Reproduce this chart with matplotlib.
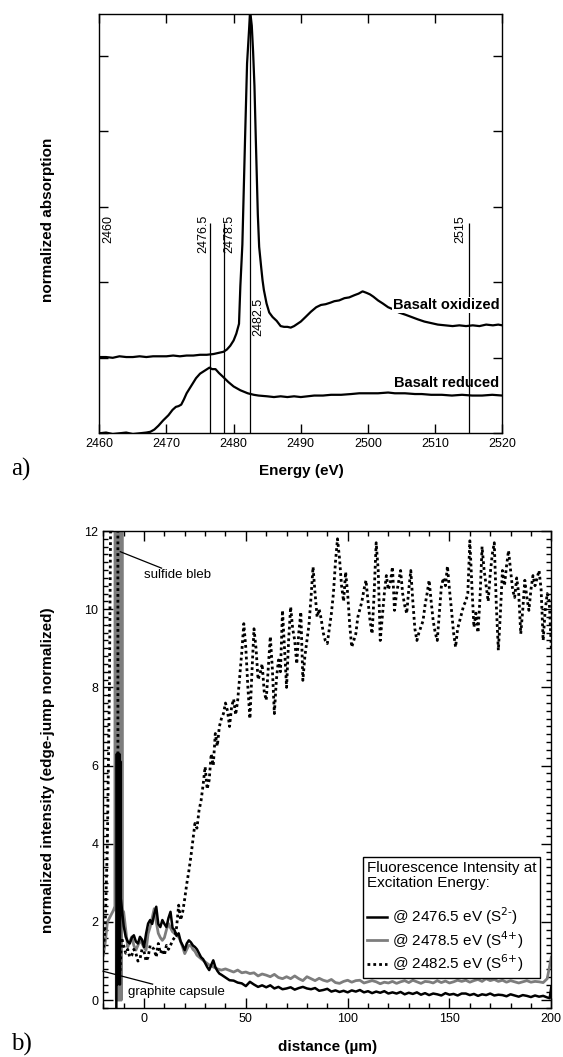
import matplotlib
matplotlib.use("Agg")
import matplotlib.pyplot as plt
from matplotlib.ticker import MultipleLocator, NullFormatter
from matplotlib.lines import Line2D

plt.rcParams['font.family'] = ['Liberation Sans', 'DejaVu Sans']

# ---------------- Panel a data ----------------
ox_energy = [2460, 2461, 2462, 2463, 2464, 2465, 2466, 2467, 2468, 2469, 2470, 2471, 2472,
             2473, 2474, 2475, 2476, 2477, 2478, 2478.5, 2479, 2479.5, 2480, 2480.4, 2480.8,
             2481.0, 2481.3, 2481.7, 2482.0, 2482.3, 2482.45, 2482.7, 2482.9, 2483.1, 2483.3,
             2483.6, 2483.8, 2484.1, 2484.3, 2484.5, 2484.9, 2485.3, 2485.8, 2486.4, 2487.0,
             2487.5, 2488, 2488.5, 2489, 2489.5, 2490, 2490.7, 2491.5, 2492.3, 2493, 2493.7,
             2494.4, 2495, 2495.7, 2496.5, 2497.2, 2498, 2498.6, 2499.2, 2499.8, 2500.3, 2500.8,
             2501.5, 2502.2, 2503, 2503.8, 2504.6, 2505.6, 2506.5, 2507.4, 2508.4, 2509.4,
             2510.4, 2511.5, 2512.6, 2513.6, 2514.6, 2515.6, 2516.6, 2517.6, 2518.6, 2519.4, 2520]
ox_abs = [1.01, 1.01, 1.00, 1.02, 1.01, 1.01, 1.02, 1.01, 1.02, 1.02, 1.02, 1.03, 1.02,
          1.03, 1.03, 1.04, 1.04, 1.05, 1.07, 1.08, 1.11, 1.16, 1.23, 1.32, 1.45,
          1.95, 2.50, 3.90, 4.90, 5.35, 5.60, 5.40, 5.05, 4.60, 3.90,
          2.90, 2.47, 2.20, 2.03, 1.90, 1.72, 1.60, 1.54, 1.49, 1.42,
          1.41, 1.41, 1.40, 1.42, 1.45, 1.48, 1.54, 1.61, 1.67, 1.70, 1.71,
          1.73, 1.75, 1.76, 1.79, 1.80, 1.83, 1.85, 1.88, 1.86, 1.84, 1.81,
          1.76, 1.72, 1.67, 1.64, 1.60, 1.57, 1.54, 1.51, 1.48, 1.46,
          1.44, 1.43, 1.42, 1.43, 1.42, 1.43, 1.42, 1.44, 1.43, 1.44, 1.43]

red_energy = [2460, 2461, 2462, 2463, 2464, 2465, 2466, 2467, 2467.6, 2468.2, 2468.8, 2469.5,
              2470.3, 2470.9, 2471.4, 2471.8, 2472.2, 2472.6, 2473, 2473.7, 2474.4, 2475,
              2475.7, 2476.4, 2476.8, 2477.3, 2477.8, 2478.4, 2479.2, 2480, 2481, 2482.1,
              2483, 2483.7, 2485, 2486, 2487, 2488, 2489, 2490, 2491, 2492, 2493.3, 2494.5,
              2496, 2497.5, 2498.7, 2500, 2501.5, 2503, 2504, 2505.5, 2507, 2508, 2509.4,
              2511, 2512.5, 2514, 2515.5, 2517, 2518.5, 2520]
red_abs = [0.00, 0.01, -0.01, 0.00, 0.01, -0.01, 0.00, 0.01, 0.02, 0.05, 0.10, 0.17,
           0.24, 0.31, 0.35, 0.36, 0.38, 0.45, 0.53, 0.63, 0.73, 0.79,
           0.83, 0.87, 0.85, 0.85, 0.80, 0.75, 0.68, 0.62, 0.57, 0.53,
           0.51, 0.50, 0.49, 0.48, 0.49, 0.48, 0.49, 0.48, 0.49, 0.50, 0.50, 0.51,
           0.51, 0.52, 0.53, 0.53, 0.53, 0.54, 0.53, 0.53, 0.52, 0.52, 0.51,
           0.51, 0.50, 0.51, 0.50, 0.50, 0.51, 0.50]

marker_energies = [2476.5, 2478.5, 2482.5, 2515]
marker_tops = [2.78, 2.78, 5.55, 2.78]
marker_labels = ["2476.5", "2478.5", "2482.5", "2515"]
marker_label_x = [2475.42, 2479.43, 2483.7, 2513.7]
marker_label_top = [2.89, 2.89, 1.79, 2.89]

# ---------------- Panel b data ----------------
s2_dist = [-13.6, -13.35, -13.05, -12.75, -12.45, -12.15, -11.85, -11.55, -11.4,
           -10.8, -10, -9, -8, -7, -6, -5, -4, -3, -2, -1, 0, 1, 2, 3, 4, 5, 6, 7, 8, 9, 10,
           11, 12, 13, 14, 15, 16, 17, 18, 19, 20, 21, 22, 23, 24, 25, 26, 27, 28, 29, 30,
           31, 32, 33, 34, 35, 36, 37, 38, 40, 42, 44, 46, 48, 50, 52, 54, 56, 58, 60, 62,
           64, 66, 68, 70, 72, 74, 76, 78, 80, 82, 84, 86, 88, 90, 92, 94, 96, 98, 100, 102,
           104, 106, 108, 110, 112, 114, 116, 118, 120, 122, 124, 126, 128, 130, 132, 134,
           136, 138, 140, 142, 144, 146, 148, 150, 152, 154, 156, 158, 160, 162, 164, 166,
           168, 170, 172, 174, 176, 178, 180, 182, 184, 186, 188, 190, 192, 194, 196, 198,
           199.2, 200]
s2_int = [-0.3, 6.3, 0.4, 6.2, 0.6, 6.3, 0.4, 6.1, 2.6,
          2.30, 1.90, 1.62, 1.50, 1.45, 1.60, 1.66, 1.50, 1.45, 1.62, 1.55, 1.36, 1.70, 1.96,
          2.05, 1.95, 2.20, 2.39, 1.95, 1.87, 2.05, 1.95, 1.87, 2.10, 2.26, 1.85, 1.79, 1.65,
          1.71, 1.50, 1.40, 1.28, 1.45, 1.53, 1.48, 1.40, 1.36, 1.30, 1.20, 1.10, 1.05, 0.95,
          0.85, 0.77, 0.90, 1.02, 0.85, 0.75, 0.68, 0.65, 0.58, 0.51, 0.50, 0.45, 0.43, 0.36,
          0.47, 0.40, 0.34, 0.38, 0.33, 0.38, 0.30, 0.34, 0.28, 0.30, 0.33, 0.27, 0.31, 0.34,
          0.30, 0.28, 0.31, 0.24, 0.26, 0.29, 0.22, 0.25, 0.21, 0.24, 0.20, 0.25, 0.22, 0.26,
          0.20, 0.23, 0.18, 0.22, 0.19, 0.23, 0.17, 0.20, 0.17, 0.21, 0.15, 0.19, 0.16, 0.20,
          0.14, 0.18, 0.13, 0.17, 0.15, 0.12, 0.18, 0.14, 0.16, 0.12, 0.17, 0.17, 0.13, 0.16,
          0.11, 0.15, 0.13, 0.17, 0.12, 0.14, 0.13, 0.10, 0.15, 0.12, 0.09, 0.13, 0.11, 0.08,
          0.12, 0.09, 0.11, 0.07, 0.05, 0.34]

s4_dist = [-20, -19, -18, -17, -16, -15, -14.3, -14.0, -13.6, -13.2, -12.8, -12.4, -12.0,
           -11.6, -11.2, -10.8, -10.6, -10, -9, -8, -7, -6, -5, -4, -3, -2, -1, 0, 1, 2, 3,
           4, 5, 6, 7, 8, 9, 10, 11, 12, 13, 14, 15, 16, 17, 18, 19, 20, 21, 22, 23, 24, 25,
           26, 28, 30, 32, 34, 36, 38, 40, 42, 44, 46, 48, 50, 52, 54, 56, 58, 60, 62, 64,
           66, 68, 70, 72, 74, 76, 78, 80, 82, 84, 86, 88, 90, 92, 94, 96, 98, 100, 102, 104,
           106, 108, 110, 112, 114, 116, 118, 120, 122, 124, 126, 128, 130, 132, 134, 136,
           138, 140, 142, 144, 146, 148, 150, 152, 154, 156, 158, 160, 162, 164, 166, 168,
           170, 172, 174, 176, 178, 180, 182, 184, 186, 188, 190, 192, 194, 196, 198, 200]
s4_int = [1.15, 1.50, 2.00, 2.10, 2.20, 2.30, 2.40, 60, 0.0, 60, 0.0, 60, 0.0,
          60, 0.0, 60, 2.30, 2.26, 1.80, 1.36, 1.50, 1.62, 1.40, 1.28, 1.40, 1.53, 1.45, 1.35,
          1.28, 1.70, 1.87, 2.10, 2.34, 2.00, 1.71, 1.60, 1.53, 1.60, 1.80, 1.96, 1.85, 1.75,
          1.71, 1.65, 1.62, 1.50, 1.35, 1.19, 1.30, 1.40, 1.40, 1.30, 1.25, 1.15, 1.06, 0.98,
          0.90, 0.85, 0.80, 0.77, 0.80, 0.76, 0.72, 0.77, 0.70, 0.72, 0.68, 0.70, 0.62, 0.67,
          0.64, 0.60, 0.66, 0.58, 0.55, 0.60, 0.55, 0.62, 0.55, 0.50, 0.60, 0.55, 0.50, 0.56,
          0.51, 0.48, 0.53, 0.45, 0.43, 0.48, 0.51, 0.46, 0.50, 0.51, 0.44, 0.47, 0.50, 0.47,
          0.42, 0.46, 0.44, 0.48, 0.43, 0.47, 0.50, 0.45, 0.51, 0.47, 0.43, 0.48, 0.47, 0.44,
          0.50, 0.45, 0.49, 0.44, 0.47, 0.51, 0.48, 0.51, 0.46, 0.50, 0.53, 0.48, 0.55, 0.50,
          0.53, 0.48, 0.51, 0.46, 0.50, 0.47, 0.44, 0.47, 0.50, 0.46, 0.48, 0.47, 0.45, 0.55,
          1.10]

s6_dist = [-20, -19, -18, -17, -16.3, -16.0, -13.0, -12.8, -11.8, -11, -10, -9, -8, -7, -6,
           -5, -4, -3, -2, -1, 0, 1, 2, 3, 4, 5, 6, 7, 8, 9, 10, 11, 12,
           13, 14, 15, 16, 17, 18, 19, 20, 21, 22, 23, 24, 25, 26, 27, 28, 29, 30,
           31, 32, 33, 34, 35, 36, 37, 38, 39, 40, 41, 42, 43, 44, 45, 46, 47, 48, 49, 50,
           51, 52, 53, 54, 55, 56, 57, 58, 59, 60, 61, 62, 63, 64, 65, 66, 67, 68, 69, 70,
           71, 72, 73, 74, 75, 76, 77, 78, 79, 80, 81, 82, 83, 84, 85, 86, 87, 88, 89, 90,
           91, 92, 93, 94, 95, 96, 97, 98, 99, 100, 101, 102, 103, 104, 105, 106, 107, 108,
           109, 110, 111, 112, 113, 114, 115, 116, 117, 118, 119, 120, 121, 122, 123, 124,
           125, 126, 127, 128, 129, 130, 131, 132, 133, 134, 135, 136, 137, 138, 139, 140,
           141, 142, 143, 144, 145, 146, 147, 148, 149, 150, 151, 152, 153, 154, 155, 156,
           157, 158, 159, 160, 161, 162, 163, 164, 165, 166, 167, 168, 169, 170, 171, 172,
           173, 174, 175, 176, 177, 178, 179, 180, 181, 182, 183, 184, 185, 186, 187, 188,
           189, 190, 191, 192, 193, 194, 195, 196, 197, 198, 199, 200]
s6_int = [1.2, 2.0, 4.0, 8.0, 13.0, 60, 60, 0.5, 0.7, 1.60, 1.40, 1.20, 1.30, 1.10, 1.15,
          1.30, 1.20, 1.00, 1.05, 1.30, 1.25, 1.00, 1.10, 1.40, 1.35, 1.30, 1.10, 1.45, 1.20,
          1.30, 1.15, 1.40, 1.30,
          1.40, 1.53, 1.60, 1.87, 2.43, 2.05, 2.26, 2.60, 2.98, 3.30, 3.67, 4.10, 4.52, 4.40,
          4.85, 5.10, 5.50, 5.97, 5.40, 5.63, 6.30, 6.00, 6.82, 6.50, 7.00, 7.20, 7.33, 7.60,
          7.40, 7.00, 7.50, 7.70, 7.30, 7.67, 8.30, 8.90, 9.63, 9.00, 8.00, 7.20, 8.40, 9.50,
          9.00, 8.20, 8.35, 8.60, 7.90, 7.67, 8.50, 9.30, 8.50, 7.33, 8.20, 8.70, 8.40, 9.97,
          9.00, 8.00, 9.20, 10.06, 9.50, 9.20, 8.60, 9.40, 9.93, 8.18, 8.80, 9.20, 9.60, 10.30,
          11.08, 10.40, 9.80, 10.00, 9.75, 9.40, 9.20, 9.12, 9.50, 9.89, 10.40, 11.20, 11.80,
          11.30, 10.60, 10.20, 10.95, 10.40, 9.60, 9.03, 9.20, 9.37, 9.80, 10.00, 10.20,
          10.50, 10.74, 10.20, 9.70, 9.37, 10.40, 11.70, 11.00, 9.20, 9.80, 10.40, 10.86,
          10.50, 10.70, 11.08, 9.97, 10.40, 10.70, 10.99, 10.40, 10.10, 9.89, 10.50, 10.99,
          10.20, 9.50, 9.20, 9.40, 9.55, 9.70, 10.10, 10.40, 10.74, 10.20, 9.70, 9.40, 9.20,
          9.90, 10.57, 10.80, 10.60, 11.10, 10.50, 9.97, 9.40, 9.03, 9.50, 9.70, 9.89, 10.10,
          10.20, 10.40, 11.75, 10.60, 9.54, 9.90, 9.40, 10.30, 11.60, 11.00, 10.60, 10.20,
          10.90, 11.40, 11.70, 10.10, 8.95, 9.90, 10.99, 10.60, 11.10, 11.50, 11.00, 10.50,
          10.30, 10.80, 10.40, 9.37, 10.00, 10.74, 10.30, 9.97, 10.50, 10.86, 10.60, 10.80,
          10.99, 10.50, 9.20, 9.97, 10.40, 10.20, 9.00]

legend_title = "Fluorescence Intensity at\nExcitation Energy:\n "
legend_labels = [r"@ 2476.5 eV (S$^{2\text{-}}$)", r"@ 2478.5 eV (S$^{4\text{+}}$)",
                 r"@ 2482.5 eV (S$^{6\text{+}}$)"]
gray = "#7d7d7d"
dots = (0, (1, 1.1))

W, H = 563, 1057
fig = plt.figure(figsize=(W / 100, H / 100), dpi=100)


def fx(px):
    return px / W


def fy(py):
    return 1 - py / H


# ---------------- Panel a ----------------
axa = fig.add_axes([fx(99.3), fy(433.3), fx(502.3) - fx(99.3), fy(14.3) - fy(433.3)])
axa.plot(ox_energy, ox_abs, color="black", lw=1.6)
axa.plot(red_energy, red_abs, color="black", lw=1.6)
axa.vlines(marker_energies, 0, marker_tops, color="black", lw=0.9)
axa.set_xlim(2460, 2520)
axa.set_ylim(0, 5.55)
axa.xaxis.set_major_locator(MultipleLocator(10))
axa.yaxis.set_major_locator(MultipleLocator(1))
axa.yaxis.set_major_formatter(NullFormatter())
axa.tick_params(direction="in", top=True, right=True, length=6.5, width=1, labelsize=9)
for s in axa.spines.values():
    s.set_linewidth(1)
for xv, yt, lab in zip(marker_label_x, marker_label_top, marker_labels):
    axa.text(xv, yt, lab, rotation=90, ha="center", va="top", fontsize=9)
axa.text(2461.34, 2.89, "2460", rotation=90, ha="center", va="top", fontsize=9)
axa.text(2519.55, 1.70, "Basalt oxidized", ha="right", va="center", fontsize=10.5,
         fontweight="bold", bbox=dict(facecolor="white", edgecolor="none", pad=0.5))
axa.text(2519.55, 0.66, "Basalt reduced", ha="right", va="center", fontsize=10.5,
         fontweight="bold")
fig.text(fx(47.8), fy(220), "normalized absorption", rotation=90, ha="center", va="center",
         fontsize=11, fontweight="bold")
fig.text(fx(301), fy(470.7), "Energy (eV)", ha="center", va="center", fontsize=11,
         fontweight="bold")
fig.text(fx(11), fy(469), "a)", ha="left", va="center", fontsize=18,
         family=["Liberation Serif", "DejaVu Serif"])

# ---------------- Panel b ----------------
axb = fig.add_axes([fx(103.3), fy(1008), fx(551.3) - fx(103.3), fy(531) - fy(1008)])
axb.plot(s4_dist, s4_int, color=gray, lw=2.0)
axb.plot(s6_dist, s6_int, color="black", lw=2.0, linestyle=dots)
axb.plot(s2_dist, s2_int, color="black", lw=1.8)
axb.set_xlim(-20, 200)
axb.set_ylim(-0.2, 12)
axb.xaxis.set_major_locator(MultipleLocator(50))
axb.xaxis.set_minor_locator(MultipleLocator(10))
axb.yaxis.set_major_locator(MultipleLocator(2))
axb.yaxis.set_minor_locator(MultipleLocator(0.2))
axb.tick_params(which="both", direction="in", top=True, right=True, width=1, labelsize=9)
axb.tick_params(which="major", length=7)
axb.tick_params(which="minor", length=3.5)
for s in axb.spines.values():
    s.set_linewidth(1)

axb.plot([-11.65, 8.6], [11.47, 11.05], color="black", lw=0.9)
axb.text(-0.2, 10.87, "sulfide bleb", ha="left", va="center", fontsize=9.5)
axb.plot([-20.1, 4.2], [0.74, 0.41], color="black", lw=0.9, clip_on=False)
axb.text(-7.8, 0.2, "graphite capsule", ha="left", va="center", fontsize=9.5)

h2 = Line2D([], [], color="black", lw=1.8)
h4 = Line2D([], [], color=gray, lw=2.0)
h6 = Line2D([], [], color="black", lw=2.0, linestyle=dots)
leg = axb.legend([h2, h4, h6], legend_labels, title=legend_title,
                 loc="upper right", bbox_to_anchor=(0.9757, 0.3159), borderaxespad=0,
                 fancybox=False, edgecolor="black", framealpha=1, fontsize=11,
                 title_fontsize=11, alignment="left", handlelength=1.28, handletextpad=0.37,
                 labelspacing=0.1, borderpad=0.25)
leg.get_frame().set_linewidth(1)
leg.get_title().set_linespacing(1.05)

fig.text(fx(48.5), fy(770), "normalized intensity (edge-jump normalized)", rotation=90,
         ha="center", va="center", fontsize=11, fontweight="bold")
fig.text(fx(327.4), fy(1046.7), "distance (µm)", ha="center", va="center", fontsize=11,
         fontweight="bold")
fig.text(fx(11), fy(1044), "b)", ha="left", va="center", fontsize=18,
         family=["Liberation Serif", "DejaVu Serif"])

fig.savefig("out.png", dpi=100)
